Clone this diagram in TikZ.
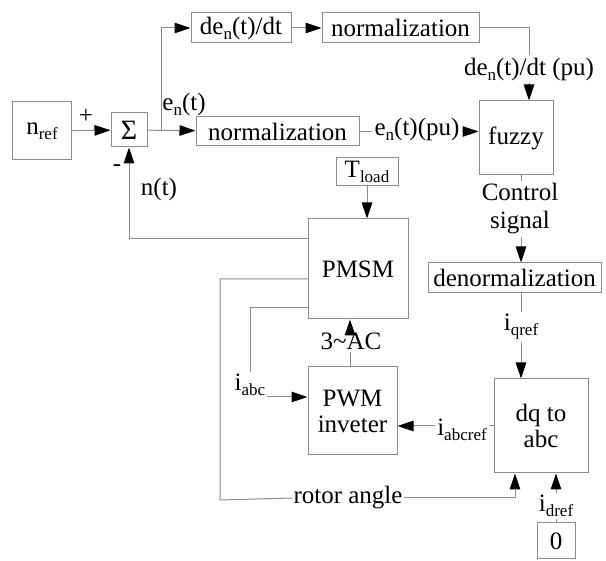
\documentclass[tikz,border=0pt]{standalone}
\usepackage{fontspec}
\setmainfont{Liberation Serif}
\usetikzlibrary{arrows.meta}
\definecolor{lc}{RGB}{140,140,140}
\newcommand\lowidx[1]{\raisebox{-5pt}{\fontsize{17}{17}\selectfont #1}}
\begin{document}
\begin{tikzpicture}[x=1pt,y=-1pt,
  every node/.style={font=\rmfamily\fontsize{25}{30}\selectfont, text=black},
  blk/.style={draw=lc, line width=1pt, inner sep=0pt, minimum width=#1},
  ln/.style={draw=lc, line width=1pt},
  arr/.style={ln, -{Triangle[color=black,length=16pt,width=10.5pt]}},
  lbl/.style={inner sep=2pt}]
\useasboundingbox (0,0) rectangle (606,561);

% blocks
\node[blk=59pt, minimum height=58pt] (nref) at (42,131) {n\lowidx{ref}};
\node[blk=36pt, minimum height=34pt] (sum) at (129,130) {\fontsize{28}{30}\selectfont Σ};
\node[blk=100pt, minimum height=30pt] (de) at (241,28) {de\lowidx{n}(t)/dt};
\node[blk=157pt, minimum height=30pt] (norm1) at (400.5,28) {normalization};
\node[blk=163pt, minimum height=29pt] (norm2) at (277.5,131.5) {normalization};
\node[blk=74pt, minimum height=74pt] (fuzzy) at (516,138) {fuzzy};
\node[blk=62pt, minimum height=28pt] (tload) at (367,172) {T\lowidx{load}};
\node[blk=100pt, minimum height=100pt] (pmsm) at (358,269) {PMSM};
\node[blk=173pt, minimum height=30pt] (denorm) at (514.5,278) {denormalization};
\node[blk=89pt, minimum height=88pt, align=center] (pwm) at (352.5,411) {PWM\\[-4pt]inveter};
\node[blk=94pt, minimum height=94pt, align=center] (dq) at (541,426) {dq to\\[-4pt]abc};
\node[blk=38pt, minimum height=36pt] (zero) at (556,541) {0};

% routing columns
\coordinate (br) at (161,131);
\coordinate (ccol) at (521,0);
\coordinate (dcol) at (529,0);
\coordinate (acol) at (350,0);

% labels on signals
\node[lbl] at (86,116) {+};
\node[lbl] at (117,168) {-};
\node[lbl] at (184,104) {e\lowidx{n}(t)};
\node[lbl] at (159,189) {n(t)};
\node[lbl] (dpu) at (529,69) {de\lowidx{n}(t)/dt (pu)};
\node[lbl] (enpu) at (417,129) {e\lowidx{n}(t)(pu)};
\node[lbl, align=center] (ctrl) at (520,209) {Control\\[-2pt]signal};
\node[lbl] (iq) at (521,327) {i\lowidx{qref}};
\node[lbl] (ac) at (351,341) {3\textasciitilde AC};
\node[lbl] (iabc) at (250,385) {i\lowidx{abc}};
\node[lbl] (iabcref) at (462,430) {i\lowidx{abcref}};
\node[lbl] (id) at (556,506) {i\lowidx{dref}};
\node[lbl, fill=white, inner sep=1pt] (rot) at (348,498) {rotor angle};

% error path
\draw[arr] (nref) -- (sum);
\draw[arr] (sum) -- (norm2);
\draw[arr] (br) |- (de);
\draw[arr] (de) -- (norm1);
\draw[ln] (norm1.east) -| (dpu.north -| dcol);
\draw[arr] (dpu.south -| dcol) -- (fuzzy.north -| dcol);
\draw[ln] (norm2.east) -- (enpu.west |- norm2.east);
\draw[arr] (enpu.east |- norm2.east) -- (fuzzy.west |- norm2.east);

% control path
\draw[ln] (fuzzy.south -| ccol) -- (ctrl.north -| ccol);
\draw[arr] (ctrl.south -| ccol) -- (denorm.north -| ccol);
\draw[ln] (denorm.south -| ccol) -- (iq.north -| ccol);
\draw[arr] (iq.south -| ccol) -- (dq.north -| ccol);
\draw[ln] (zero.north) -- (id.south);
\draw[arr] (id.north) -- (dq.south -| zero.north);
\draw[ln] (dq.west) -- (dq.west -| iabcref.east);
\draw[arr] (dq.west -| iabcref.west) -- (dq.west -| pwm.east);

% inverter and motor
\draw[ln] (pwm.north -| acol) -- (ac.south -| acol);
\draw[arr] (ac.north -| acol) -- (pmsm.south -| acol);
\draw[arr] (tload) -- (tload |- pmsm.north);

% feedback paths
\draw[arr] ([yshift=30pt]pmsm.west) -| (sum.south);
\draw[ln] ([yshift=-10pt]pmsm.west) -| (220,500) -- (rot.west);
\draw[arr] (rot.east) -| ([xshift=-26pt]dq.south);
\draw[ln] ([yshift=-39pt]pmsm.west) -| (iabc.north);
\draw[arr] ([yshift=14pt]pwm.west -| iabc.east) -- ([yshift=14pt]pwm.west);
\end{tikzpicture}
\end{document}
